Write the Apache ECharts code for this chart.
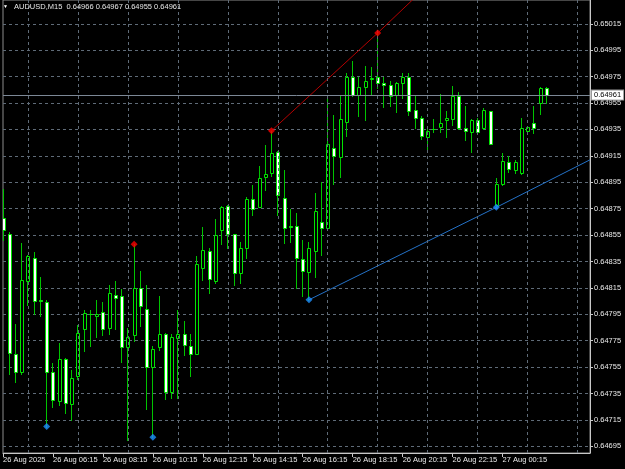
<!DOCTYPE html>
<html>
<head>
<meta charset="utf-8">
<script src="https://cdn.jsdelivr.net/npm/echarts@6/dist/echarts.min.js"></script>
<style>
  html, body { margin: 0; padding: 0; background: #000; }
  #chart { width: 625px; height: 469px; }
</style>
</head>
<body>
<div id="chart"></div>
<script>
// AUDUSD M15 candles
const symbolName = 'AUDUSD,M15';

const opens = [
  0.64868, 0.64856, 0.64765, 0.64751, 0.64820, 0.64838, 0.64806, 0.64804, 0.64751, 0.64729,
  0.64761, 0.64727, 0.64748, 0.64784, 0.64795, 0.64794, 0.64797, 0.64785, 0.64810, 0.64809,
  0.64770, 0.64779, 0.64815, 0.64799, 0.64755, 0.64770, 0.64780, 0.64736, 0.64777, 0.64780,
  0.64771, 0.64765, 0.64830, 0.64843, 0.64820, 0.64859, 0.64877, 0.64856, 0.64826, 0.64845,
  0.64882, 0.64876, 0.64899, 0.64902, 0.64918, 0.64883, 0.64862, 0.64862, 0.64837, 0.64827,
  0.64843, 0.64865, 0.64860, 0.64921, 0.64914, 0.64941, 0.64975, 0.64961, 0.64967, 0.64973,
  0.64975, 0.64970, 0.64969, 0.64961, 0.64970, 0.64975, 0.64950, 0.64944, 0.64929, 0.64935,
  0.64937, 0.64942, 0.64943, 0.64960, 0.64936, 0.64933, 0.64942, 0.64936, 0.64949, 0.64878,
  0.64894, 0.64910, 0.64904, 0.64902, 0.64934, 0.64940, 0.64955, 0.64966
];
const closes = [
  0.64859, 0.64766, 0.64751, 0.64821, 0.64839, 0.64805, 0.64805, 0.64751, 0.64730, 0.64761,
  0.64728, 0.64747, 0.64781, 0.64796, 0.64795, 0.64795, 0.64784, 0.64811, 0.64807, 0.64770,
  0.64778, 0.64815, 0.64801, 0.64755, 0.64769, 0.64780, 0.64736, 0.64778, 0.64780, 0.64772,
  0.64765, 0.64833, 0.64844, 0.64822, 0.64855, 0.64876, 0.64856, 0.64826, 0.64845, 0.64882,
  0.64875, 0.64898, 0.64901, 0.64917, 0.64885, 0.64860, 0.64861, 0.64838, 0.64828, 0.64845,
  0.64873, 0.64860, 0.64924, 0.64915, 0.64943, 0.64975, 0.64961, 0.64967, 0.64972, 0.64974,
  0.64970, 0.64969, 0.64960, 0.64970, 0.64975, 0.64949, 0.64944, 0.64930, 0.64934, 0.64935,
  0.64940, 0.64944, 0.64960, 0.64936, 0.64934, 0.64942, 0.64933, 0.64950, 0.64924, 0.64894,
  0.64911, 0.64905, 0.64910, 0.64936, 0.64937, 0.64936, 0.64966, 0.64961
];
const lows = [
  0.64851, 0.64750, 0.64744, 0.64750, 0.64802, 0.64795, 0.64794, 0.64710, 0.64725, 0.64726,
  0.64720, 0.64715, 0.64746, 0.64767, 0.64771, 0.64778, 0.64779, 0.64780, 0.64784, 0.64759,
  0.64700, 0.64775, 0.64786, 0.64723, 0.64702, 0.64768, 0.64731, 0.64732, 0.64732, 0.64764,
  0.64748, 0.64765, 0.64821, 0.64811, 0.64819, 0.64848, 0.64845, 0.64817, 0.64819, 0.64838,
  0.64870, 0.64876, 0.64889, 0.64900, 0.64870, 0.64849, 0.64850, 0.64815, 0.64809, 0.64806,
  0.64823, 0.64840, 0.64859, 0.64894, 0.64899, 0.64930, 0.64960, 0.64945, 0.64942, 0.64961,
  0.64966, 0.64952, 0.64953, 0.64948, 0.64959, 0.64946, 0.64936, 0.64928, 0.64919, 0.64933,
  0.64933, 0.64929, 0.64938, 0.64935, 0.64927, 0.64918, 0.64932, 0.64935, 0.64924, 0.64876,
  0.64893, 0.64903, 0.64902, 0.64901, 0.64933, 0.64932, 0.64947, 0.64955
];
const highs = [
  0.64890, 0.64857, 0.64788, 0.64849, 0.64840, 0.64842, 0.64823, 0.64806, 0.64758, 0.64773,
  0.64762, 0.64753, 0.64787, 0.64798, 0.64798, 0.64806, 0.64804, 0.64817, 0.64820, 0.64814,
  0.64785, 0.64848, 0.64828, 0.64817, 0.64771, 0.64809, 0.64781, 0.64780, 0.64798, 0.64790,
  0.64780, 0.64839, 0.64861, 0.64845, 0.64867, 0.64877, 0.64878, 0.64856, 0.64850, 0.64884,
  0.64893, 0.64907, 0.64923, 0.64934, 0.64919, 0.64904, 0.64875, 0.64872, 0.64851, 0.64850,
  0.64887, 0.64895, 0.64961, 0.64946, 0.64960, 0.64978, 0.64987, 0.64975, 0.64983, 0.64982,
  0.65008, 0.64975, 0.64972, 0.64971, 0.64978, 0.64978, 0.64960, 0.64945, 0.64935, 0.64943,
  0.64962, 0.64949, 0.64968, 0.64963, 0.64953, 0.64943, 0.64944, 0.64951, 0.64949, 0.64898,
  0.64917, 0.64915, 0.64912, 0.64944, 0.64937, 0.64953, 0.64967, 0.64967
];

// x labels, one every 8 bars
const timeLabels = [
  '26 Aug 2025', '26 Aug 06:15', '26 Aug 08:15', '26 Aug 10:15', '26 Aug 12:15', '26 Aug 14:15',
  '26 Aug 16:15', '26 Aug 18:15', '26 Aug 20:15', '26 Aug 22:15', '27 Aug 00:15'
];
const priceTicks = [
  0.64695, 0.64715, 0.64735, 0.64755, 0.64775, 0.64795, 0.64815, 0.64835, 0.64855,
  0.64875, 0.64895, 0.64915, 0.64935, 0.64955, 0.64975, 0.64995, 0.65015
];

// fractal bars
const upFractals = [21, 43, 60];
const downFractals = [7, 24, 49, 79];
// trend line ends (where they leave the chart)
const redRayEnd = [66, 0.65035];
const blueRayEnd = [94, 0.64912];

const totalSlots = 95;

const chartDom = document.getElementById('chart');
const myChart = echarts.init(chartDom, null, { renderer: 'canvas' });

const categories = [];
for (let i = 0; i < totalSlots; i++) {
  categories.push(i % 8 === 0 && i / 8 < timeLabels.length ? timeLabels[i / 8] : '');
}

const candleData = opens.map((o, i) => [i, o, closes[i], lows[i], highs[i]]);
const last = opens.length - 1;
const headerText = symbolName + '  ' + [opens[last], highs[last], lows[last], closes[last]]
  .map(v => v.toFixed(5)).join(' ');

const font = 'Liberation Sans';
const gridColor = '#5f6b78';

// vertical grid sits halfway between the time labels
const vGrid = [];
for (let i = 0; i < totalSlots; i++) {
  if (i % 8 === 4) {
    vGrid.push({
      xAxis: i,
      label: { show: false },
      lineStyle: { color: gridColor, type: [3, 3], width: 1 }
    });
  }
}

function renderCandle(params, api) {
  const i = api.value(0);
  const o = api.value(1), c = api.value(2), l = api.value(3), h = api.value(4);
  const pO = api.coord([i, o]);
  const pC = api.coord([i, c]);
  const pL = api.coord([i, l]);
  const pH = api.coord([i, h]);
  const cx = Math.floor(pO[0]);
  const top = Math.round(Math.min(pO[1], pC[1]));
  const bot = Math.round(Math.max(pO[1], pC[1]));
  const children = [{
    type: 'line',
    shape: { x1: cx + 0.5, y1: Math.round(pH[1]), x2: cx + 0.5, y2: Math.round(pL[1]) + 1 },
    style: { stroke: '#00c400', lineWidth: 1 }
  }];
  if (bot - top < 1) {
    children.push({
      type: 'line',
      shape: { x1: cx - 1, y1: top + 0.5, x2: cx + 3, y2: top + 0.5 },
      style: { stroke: '#00e600', lineWidth: 1 }
    });
  } else {
    children.push({
      type: 'rect',
      shape: { x: cx - 0.5, y: top + 0.5, width: 3, height: bot - top },
      style: { fill: c >= o ? '#000000' : '#ffffff', stroke: '#00e600', lineWidth: 1 }
    });
  }
  return { type: 'group', children: children };
}

const option = {
  backgroundColor: '#000000',
  animation: false,
  title: [
    {
      text: '\u25BC', left: 3, top: 4, padding: 0,
      textStyle: { color: '#ffffff', fontSize: 5, fontFamily: font, fontWeight: 'normal' }
    },
    {
      text: headerText, left: 14, top: 3, padding: 0,
      textStyle: { color: '#e6e6e6', fontSize: 7.5, fontFamily: font, fontWeight: 'normal' }
    }
  ],
  grid: {
    left: 2.5,
    right: 35,
    top: 0,
    bottom: 16,
    show: true,
    borderColor: '#8c8c8c',
    borderWidth: 1,
    backgroundColor: 'transparent'
  },
  xAxis: {
    type: 'category',
    data: categories,
    boundaryGap: false,
    axisLine: { show: true, lineStyle: { color: '#c8c8c8', width: 1 } },
    axisTick: {
      show: true, length: 4, inside: false,
      interval: (idx) => idx % 8 === 0 && idx <= 80,
      lineStyle: { color: '#c8c8c8' }
    },
    axisLabel: {
      interval: (idx) => idx % 8 === 0 && idx <= 80,
      align: 'left',
      margin: 3,
      color: '#e8e8e8',
      fontSize: 7.5,
      fontFamily: font
    },
    splitLine: { show: false }
  },
  yAxis: {
    type: 'value',
    position: 'right',
    min: 0.6469,
    max: 0.65033,
    scale: true,
    axisLine: { show: true, lineStyle: { color: '#c8c8c8', width: 1 } },
    axisTick: {
      show: true, length: 3, inside: false,
      customValues: priceTicks,
      lineStyle: { color: '#c8c8c8' }
    },
    axisLabel: {
      customValues: priceTicks,
      formatter: (v) => v.toFixed(5),
      margin: 4,
      color: '#e8e8e8',
      fontSize: 7.5,
      fontFamily: font
    },
    splitLine: {
      show: true,
      lineStyle: { color: gridColor, type: [3, 3], width: 1 }
    }
  },
  series: [
    {
      name: 'grid and price line',
      type: 'line',
      data: [],
      z: 1,
      markLine: {
        silent: true,
        precision: 5,
        symbol: ['none', 'none'],
        lineStyle: { color: '#7c8896', type: 'solid', width: 1 },
        label: {
          show: true,
          position: 'end',
          distance: 2,
          formatter: (p) => Number(p.value).toFixed(5),
          color: '#000000',
          backgroundColor: '#ffffff',
          borderColor: '#9a9a9a',
          borderWidth: 1,
          padding: [1, 2, 0, 2],
          fontSize: 7.5,
          fontFamily: font
        },
        data: vGrid.concat([{ yAxis: closes[last] }])
      }
    },
    {
      name: 'candles',
      type: 'custom',
      renderItem: renderCandle,
      data: candleData,
      encode: { x: 0, y: [1, 2, 3, 4] },
      clip: true,
      z: 3
    },
    {
      name: 'upper line',
      type: 'line',
      data: [[43, highs[43]], [60, highs[60]], redRayEnd],
      symbol: 'none',
      lineStyle: { color: '#b40000', width: 1 },
      clip: true,
      z: 4
    },
    {
      name: 'lower line',
      type: 'line',
      data: [[49, lows[49]], [79, lows[79]], blueRayEnd],
      symbol: 'none',
      lineStyle: { color: '#2472c8', width: 1 },
      clip: true,
      z: 4
    },
    {
      name: 'up fractals',
      type: 'scatter',
      data: upFractals.map(i => [i, highs[i]]),
      symbol: 'diamond',
      symbolSize: 7,
      itemStyle: { color: '#ff0000' },
      z: 5
    },
    {
      name: 'down fractals',
      type: 'scatter',
      data: downFractals.map(i => [i, lows[i]]),
      symbol: 'diamond',
      symbolSize: 7,
      itemStyle: { color: '#1e90ff' },
      z: 5
    }
  ]
};

myChart.setOption(option);
</script>
</body>
</html>
